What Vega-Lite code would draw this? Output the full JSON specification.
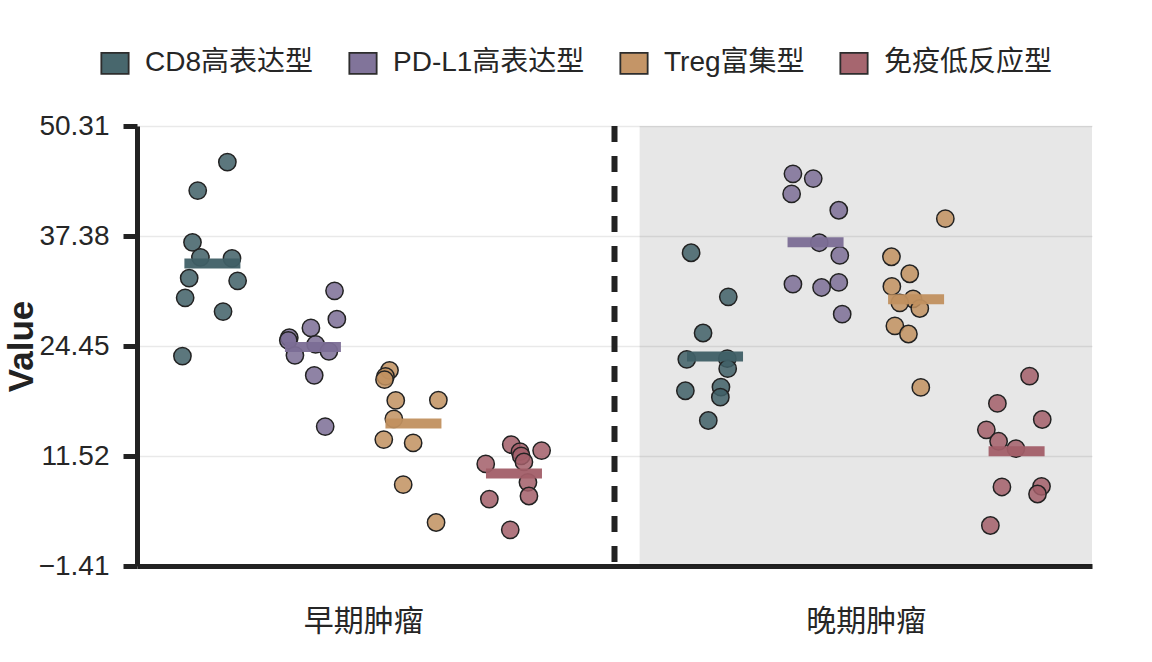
{
  "$schema": "https://vega.github.io/schema/vega-lite/v6.json",
  "width": 955,
  "height": 440,
  "autosize": {"type": "none"},
  "padding": {"left": 137, "top": 126, "right": 60, "bottom": 96},
  "background": "white",
  "config": {
    "view": {"stroke": null},
    "font": "Liberation Sans, Noto Sans CJK SC, sans-serif"
  },
  "datasets": {
    "points": [
      {"stage": "早期肿瘤", "type": "CD8高表达型", "value": 46.07, "jitter": 0.149},
      {"stage": "早期肿瘤", "type": "CD8高表达型", "value": 42.72, "jitter": -0.146},
      {"stage": "早期肿瘤", "type": "CD8高表达型", "value": 36.64, "jitter": -0.198},
      {"stage": "早期肿瘤", "type": "CD8高表达型", "value": 34.87, "jitter": -0.119},
      {"stage": "早期肿瘤", "type": "CD8高表达型", "value": 34.75, "jitter": 0.195},
      {"stage": "早期肿瘤", "type": "CD8高表达型", "value": 32.43, "jitter": -0.231},
      {"stage": "早期肿瘤", "type": "CD8高表达型", "value": 32.11, "jitter": 0.251},
      {"stage": "早期肿瘤", "type": "CD8高表达型", "value": 30.11, "jitter": -0.271},
      {"stage": "早期肿瘤", "type": "CD8高表达型", "value": 28.5, "jitter": 0.106},
      {"stage": "早期肿瘤", "type": "CD8高表达型", "value": 23.27, "jitter": -0.298},
      {"stage": "早期肿瘤", "type": "PD-L1高表达型", "value": 30.93, "jitter": 0.215},
      {"stage": "早期肿瘤", "type": "PD-L1高表达型", "value": 27.6, "jitter": 0.238},
      {"stage": "早期肿瘤", "type": "PD-L1高表达型", "value": 26.57, "jitter": -0.02},
      {"stage": "早期肿瘤", "type": "PD-L1高表达型", "value": 25.42, "jitter": -0.235},
      {"stage": "早期肿瘤", "type": "PD-L1高表达型", "value": 25.12, "jitter": -0.245},
      {"stage": "早期肿瘤", "type": "PD-L1高表达型", "value": 24.65, "jitter": 0.027},
      {"stage": "早期肿瘤", "type": "PD-L1高表达型", "value": 23.82, "jitter": 0.159},
      {"stage": "早期肿瘤", "type": "PD-L1高表达型", "value": 23.35, "jitter": -0.179},
      {"stage": "早期肿瘤", "type": "PD-L1高表达型", "value": 21.0, "jitter": 0.013},
      {"stage": "早期肿瘤", "type": "PD-L1高表达型", "value": 14.98, "jitter": 0.122},
      {"stage": "早期肿瘤", "type": "Treg富集型", "value": 21.59, "jitter": -0.238},
      {"stage": "早期肿瘤", "type": "Treg富集型", "value": 20.88, "jitter": -0.278},
      {"stage": "早期肿瘤", "type": "Treg富集型", "value": 20.49, "jitter": -0.288},
      {"stage": "早期肿瘤", "type": "Treg富集型", "value": 18.05, "jitter": -0.176},
      {"stage": "早期肿瘤", "type": "Treg富集型", "value": 18.09, "jitter": 0.248},
      {"stage": "早期肿瘤", "type": "Treg富集型", "value": 15.89, "jitter": -0.195},
      {"stage": "早期肿瘤", "type": "Treg富集型", "value": 13.45, "jitter": -0.295},
      {"stage": "早期肿瘤", "type": "Treg富集型", "value": 13.06, "jitter": -0.003},
      {"stage": "早期肿瘤", "type": "Treg富集型", "value": 8.15, "jitter": -0.102},
      {"stage": "早期肿瘤", "type": "Treg富集型", "value": 3.7, "jitter": 0.225},
      {"stage": "早期肿瘤", "type": "免疫低反应型", "value": 12.86, "jitter": -0.027},
      {"stage": "早期肿瘤", "type": "免疫低反应型", "value": 12.16, "jitter": 0.275},
      {"stage": "早期肿瘤", "type": "免疫低反应型", "value": 12.04, "jitter": 0.06},
      {"stage": "早期肿瘤", "type": "免疫低反应型", "value": 11.53, "jitter": 0.072},
      {"stage": "早期肿瘤", "type": "免疫低反应型", "value": 10.82, "jitter": 0.099},
      {"stage": "早期肿瘤", "type": "免疫低反应型", "value": 10.59, "jitter": -0.281},
      {"stage": "早期肿瘤", "type": "免疫低反应型", "value": 8.42, "jitter": 0.139},
      {"stage": "早期肿瘤", "type": "免疫低反应型", "value": 6.82, "jitter": 0.149},
      {"stage": "早期肿瘤", "type": "免疫低反应型", "value": 6.46, "jitter": -0.245},
      {"stage": "早期肿瘤", "type": "免疫低反应型", "value": 2.84, "jitter": -0.037},
      {"stage": "晚期肿瘤", "type": "CD8高表达型", "value": 35.41, "jitter": -0.238},
      {"stage": "晚期肿瘤", "type": "CD8高表达型", "value": 30.23, "jitter": 0.132},
      {"stage": "晚期肿瘤", "type": "CD8高表达型", "value": 25.98, "jitter": -0.119},
      {"stage": "晚期肿瘤", "type": "CD8高表达型", "value": 22.88, "jitter": -0.281},
      {"stage": "晚期肿瘤", "type": "CD8高表达型", "value": 22.96, "jitter": 0.122},
      {"stage": "晚期肿瘤", "type": "CD8高表达型", "value": 21.79, "jitter": 0.126},
      {"stage": "晚期肿瘤", "type": "CD8高表达型", "value": 19.19, "jitter": -0.295},
      {"stage": "晚期肿瘤", "type": "CD8高表达型", "value": 19.62, "jitter": 0.059},
      {"stage": "晚期肿瘤", "type": "CD8高表达型", "value": 18.44, "jitter": 0.053},
      {"stage": "晚期肿瘤", "type": "CD8高表达型", "value": 15.69, "jitter": -0.067},
      {"stage": "晚期肿瘤", "type": "PD-L1高表达型", "value": 44.69, "jitter": -0.225},
      {"stage": "晚期肿瘤", "type": "PD-L1高表达型", "value": 44.13, "jitter": -0.023},
      {"stage": "晚期肿瘤", "type": "PD-L1高表达型", "value": 42.33, "jitter": -0.238},
      {"stage": "晚期肿瘤", "type": "PD-L1高表达型", "value": 40.41, "jitter": 0.231},
      {"stage": "晚期肿瘤", "type": "PD-L1高表达型", "value": 36.59, "jitter": 0.037},
      {"stage": "晚期肿瘤", "type": "PD-L1高表达型", "value": 35.1, "jitter": 0.241},
      {"stage": "晚期肿瘤", "type": "PD-L1高表达型", "value": 31.72, "jitter": -0.225},
      {"stage": "晚期肿瘤", "type": "PD-L1高表达型", "value": 31.92, "jitter": 0.231},
      {"stage": "晚期肿瘤", "type": "PD-L1高表达型", "value": 31.33, "jitter": 0.06},
      {"stage": "晚期肿瘤", "type": "PD-L1高表达型", "value": 28.19, "jitter": 0.265},
      {"stage": "晚期肿瘤", "type": "Treg富集型", "value": 39.42, "jitter": 0.291},
      {"stage": "晚期肿瘤", "type": "Treg富集型", "value": 34.94, "jitter": -0.245},
      {"stage": "晚期肿瘤", "type": "Treg富集型", "value": 32.94, "jitter": -0.063},
      {"stage": "晚期肿瘤", "type": "Treg富集型", "value": 31.45, "jitter": -0.241},
      {"stage": "晚期肿瘤", "type": "Treg富集型", "value": 29.99, "jitter": -0.03},
      {"stage": "晚期肿瘤", "type": "Treg富集型", "value": 29.52, "jitter": -0.162},
      {"stage": "晚期肿瘤", "type": "Treg富集型", "value": 28.86, "jitter": 0.037},
      {"stage": "晚期肿瘤", "type": "Treg富集型", "value": 26.81, "jitter": -0.211},
      {"stage": "晚期肿瘤", "type": "Treg富集型", "value": 25.86, "jitter": -0.076},
      {"stage": "晚期肿瘤", "type": "Treg富集型", "value": 19.58, "jitter": 0.047},
      {"stage": "晚期肿瘤", "type": "免疫低反应型", "value": 20.91, "jitter": 0.129},
      {"stage": "晚期肿瘤", "type": "免疫低反应型", "value": 17.7, "jitter": -0.191},
      {"stage": "晚期肿瘤", "type": "免疫低反应型", "value": 15.81, "jitter": 0.255},
      {"stage": "晚期肿瘤", "type": "免疫低反应型", "value": 14.6, "jitter": -0.301},
      {"stage": "晚期肿瘤", "type": "免疫低反应型", "value": 13.25, "jitter": -0.179},
      {"stage": "晚期肿瘤", "type": "免疫低反应型", "value": 12.39, "jitter": -0.007},
      {"stage": "晚期肿瘤", "type": "免疫低反应型", "value": 7.88, "jitter": -0.146},
      {"stage": "晚期肿瘤", "type": "免疫低反应型", "value": 7.95, "jitter": 0.248},
      {"stage": "晚期肿瘤", "type": "免疫低反应型", "value": 7.05, "jitter": 0.208},
      {"stage": "晚期肿瘤", "type": "免疫低反应型", "value": 3.35, "jitter": -0.261}
    ]
  },
  "layer": [
    {
      "data": {"values": [{}]},
      "mark": {"type": "rect", "color": "black", "opacity": 0.095},
      "encoding": {
        "x": {
          "datum": 4.25,
          "type": "quantitative",
          "scale": {"domain": [-0.75, 8.75], "nice": false, "zero": false},
          "axis": {
            "values": [1.5, 6.5],
            "labelExpr": "datum.value < 4 ? '早期肿瘤' : '晚期肿瘤'",
            "ticks": false,
            "grid": false,
            "domainColor": "#222222",
            "domainWidth": 5,
            "labelFontSize": 30,
            "labelColor": "#262626",
            "labelPadding": 40,
            "title": null
          }
        },
        "x2": {"datum": 8.75},
        "y": {
          "datum": 50.31,
          "type": "quantitative",
          "scale": {"domain": [-1.41, 50.31], "nice": false, "zero": false},
          "axis": {
            "values": [-1.41, 11.52, 24.45, 37.38, 50.31],
            "format": ".2f",
            "grid": true,
            "gridColor": "#e9e9e9",
            "gridWidth": 1.5,
            "domainColor": "#222222",
            "domainWidth": 5,
            "tickColor": "#222222",
            "tickWidth": 5,
            "tickSize": 14,
            "labelPadding": 14,
            "labelFontSize": 28,
            "labelColor": "#262626",
            "title": "Value",
            "titleFontSize": 35,
            "titleFontWeight": "bold",
            "titleColor": "#222222",
            "titleX": -105,
            "titleY": 220,
            "titleBaseline": "alphabetic",
            "titleAngle": -90
          }
        },
        "y2": {"datum": -1.41}
      }
    },
    {
      "data": {"values": [{}]},
      "mark": {"type": "rule", "color": "#222222", "strokeWidth": 6, "strokeDash": [16, 14], "strokeCap": "butt"},
      "encoding": {
        "x": {"datum": 4, "type": "quantitative"}
      }
    },
    {
      "data": {"name": "points"},
      "transform": [
        {"calculate": "(datum.stage === '晚期肿瘤' ? 5 : 0) + indexof(['CD8高表达型', 'PD-L1高表达型', 'Treg富集型', '免疫低反应型'], datum.type) + datum.jitter", "as": "pos"}
      ],
      "mark": {"type": "point", "shape": "circle", "filled": true, "size": 300, "fillOpacity": 0.85, "stroke": "#222222", "strokeWidth": 1.5, "strokeOpacity": 1},
      "encoding": {
        "x": {"field": "pos", "type": "quantitative", "title": null},
        "y": {"field": "value", "type": "quantitative", "title": "Value"},
        "fill": {
          "field": "type",
          "type": "nominal",
          "scale": {
            "domain": ["CD8高表达型", "PD-L1高表达型", "Treg富集型", "免疫低反应型"],
            "range": ["#3f5f66", "#7b6d95", "#c1905f", "#a25e68"]
          },
          "legend": {
            "orient": "none",
            "legendX": -36,
            "legendY": -77,
            "direction": "horizontal",
            "title": null,
            "symbolType": "M-1.3,-1L1.3,-1L1.3,1L-1.3,1Z",
            "symbolSize": 441,
            "symbolOpacity": 1,
            "symbolStrokeColor": "#222222",
            "symbolStrokeWidth": 1.8,
            "labelFontSize": 28,
            "labelColor": "#262626",
            "labelOffset": 16,
            "labelLimit": 400,
            "columnPadding": 31,
            "padding": 0
          }
        }
      }
    },
    {
      "data": {"name": "points"},
      "transform": [
        {"aggregate": [{"op": "mean", "field": "value", "as": "mean"}], "groupby": ["stage", "type"]},
        {"calculate": "(datum.stage === '晚期肿瘤' ? 5 : 0) + indexof(['CD8高表达型', 'PD-L1高表达型', 'Treg富集型', '免疫低反应型'], datum.type)", "as": "center"}
      ],
      "mark": {"type": "tick", "orient": "horizontal", "size": 56, "thickness": 10, "opacity": 0.95},
      "encoding": {
        "x": {"field": "center", "type": "quantitative", "title": null},
        "y": {"field": "mean", "type": "quantitative", "title": "Value"},
        "fill": {"field": "type", "type": "nominal"}
      }
    }
  ]
}
